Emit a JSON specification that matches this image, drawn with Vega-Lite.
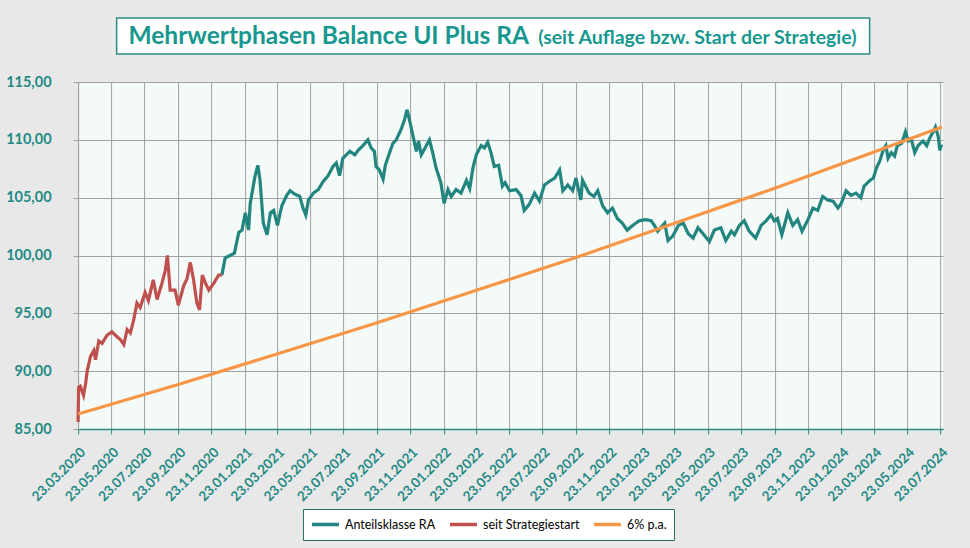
{
  "$schema": "https://vega.github.io/schema/vega-lite/v6.json",
  "background": "#e8e8e8",
  "padding": {"left": 5, "top": 17, "right": 20, "bottom": 9},
  "center": true,
  "spacing": 19,
  "config": {
    "locale": {"number": {"decimal": ",", "thousands": ".", "grouping": [3], "currency": ["", " €"]}},
    "font": "Lato, sans-serif"
  },
  "datasets": {
    "strat": [
      {"d": "2020-03-23", "v": 85.6}, {"d": "2020-03-24", "v": 88.6}, {"d": "2020-03-27", "v": 88.7},
      {"d": "2020-04-02", "v": 87.9}, {"d": "2020-04-06", "v": 89.0}, {"d": "2020-04-09", "v": 90.1},
      {"d": "2020-04-15", "v": 91.3}, {"d": "2020-04-21", "v": 91.8}, {"d": "2020-04-24", "v": 91.0},
      {"d": "2020-04-30", "v": 92.6}, {"d": "2020-05-06", "v": 92.4}, {"d": "2020-05-15", "v": 93.1},
      {"d": "2020-05-24", "v": 93.4}, {"d": "2020-06-02", "v": 93.0}, {"d": "2020-06-09", "v": 92.7},
      {"d": "2020-06-15", "v": 92.3}, {"d": "2020-06-21", "v": 93.6}, {"d": "2020-06-27", "v": 93.3},
      {"d": "2020-07-03", "v": 94.4}, {"d": "2020-07-09", "v": 95.9}, {"d": "2020-07-15", "v": 95.5},
      {"d": "2020-07-24", "v": 96.8}, {"d": "2020-07-30", "v": 96.1}, {"d": "2020-08-08", "v": 97.9},
      {"d": "2020-08-15", "v": 96.2}, {"d": "2020-08-24", "v": 97.6}, {"d": "2020-08-30", "v": 98.7},
      {"d": "2020-09-03", "v": 100.0}, {"d": "2020-09-08", "v": 97.0}, {"d": "2020-09-17", "v": 97.0},
      {"d": "2020-09-23", "v": 95.7}, {"d": "2020-10-03", "v": 97.4}, {"d": "2020-10-09", "v": 98.0},
      {"d": "2020-10-15", "v": 99.4}, {"d": "2020-10-21", "v": 97.9}, {"d": "2020-10-27", "v": 95.9},
      {"d": "2020-11-01", "v": 95.3}, {"d": "2020-11-06", "v": 98.3}, {"d": "2020-11-12", "v": 97.6},
      {"d": "2020-11-18", "v": 97.0}, {"d": "2020-11-27", "v": 97.6}, {"d": "2020-12-06", "v": 98.3},
      {"d": "2020-12-12", "v": 98.3}
    ],
    "ra": [
      {"d": "2020-12-12", "v": 98.3}, {"d": "2020-12-18", "v": 99.8}, {"d": "2020-12-27", "v": 100.0},
      {"d": "2021-01-04", "v": 100.2}, {"d": "2021-01-12", "v": 102.0}, {"d": "2021-01-18", "v": 102.2},
      {"d": "2021-01-24", "v": 103.7}, {"d": "2021-01-30", "v": 102.2}, {"d": "2021-02-02", "v": 104.5},
      {"d": "2021-02-11", "v": 106.9}, {"d": "2021-02-16", "v": 107.8}, {"d": "2021-02-20", "v": 106.5},
      {"d": "2021-02-26", "v": 102.8}, {"d": "2021-03-05", "v": 101.8}, {"d": "2021-03-11", "v": 103.7},
      {"d": "2021-03-17", "v": 103.9}, {"d": "2021-03-24", "v": 102.6}, {"d": "2021-04-01", "v": 104.3},
      {"d": "2021-04-10", "v": 105.2}, {"d": "2021-04-16", "v": 105.6}, {"d": "2021-04-25", "v": 105.3},
      {"d": "2021-05-04", "v": 105.1}, {"d": "2021-05-10", "v": 104.1}, {"d": "2021-05-15", "v": 103.5},
      {"d": "2021-05-20", "v": 104.8}, {"d": "2021-05-29", "v": 105.4}, {"d": "2021-06-07", "v": 105.7},
      {"d": "2021-06-16", "v": 106.4}, {"d": "2021-06-25", "v": 106.9}, {"d": "2021-07-04", "v": 107.7},
      {"d": "2021-07-10", "v": 108.0}, {"d": "2021-07-16", "v": 106.9}, {"d": "2021-07-22", "v": 108.4},
      {"d": "2021-08-04", "v": 109.0}, {"d": "2021-08-13", "v": 108.7}, {"d": "2021-08-19", "v": 109.1},
      {"d": "2021-08-28", "v": 109.5}, {"d": "2021-09-06", "v": 110.0}, {"d": "2021-09-12", "v": 109.3},
      {"d": "2021-09-18", "v": 109.0}, {"d": "2021-09-21", "v": 107.7}, {"d": "2021-09-27", "v": 107.4},
      {"d": "2021-10-04", "v": 106.6}, {"d": "2021-10-08", "v": 107.8}, {"d": "2021-10-16", "v": 108.9},
      {"d": "2021-10-22", "v": 109.7}, {"d": "2021-10-28", "v": 110.0}, {"d": "2021-11-06", "v": 110.9},
      {"d": "2021-11-12", "v": 111.7}, {"d": "2021-11-17", "v": 112.6}, {"d": "2021-11-22", "v": 111.6},
      {"d": "2021-11-28", "v": 110.3}, {"d": "2021-12-04", "v": 109.0}, {"d": "2021-12-08", "v": 109.9},
      {"d": "2021-12-13", "v": 108.7}, {"d": "2021-12-20", "v": 109.3}, {"d": "2021-12-28", "v": 110.0},
      {"d": "2022-01-03", "v": 108.9}, {"d": "2022-01-09", "v": 107.6}, {"d": "2022-01-18", "v": 106.3},
      {"d": "2022-01-24", "v": 104.5}, {"d": "2022-01-31", "v": 105.7}, {"d": "2022-02-06", "v": 105.1},
      {"d": "2022-02-15", "v": 105.7}, {"d": "2022-02-24", "v": 105.4}, {"d": "2022-03-06", "v": 106.5},
      {"d": "2022-03-12", "v": 105.8}, {"d": "2022-03-18", "v": 107.6}, {"d": "2022-03-24", "v": 108.7},
      {"d": "2022-04-02", "v": 109.5}, {"d": "2022-04-08", "v": 109.3}, {"d": "2022-04-14", "v": 109.8},
      {"d": "2022-04-20", "v": 108.9}, {"d": "2022-04-26", "v": 107.7}, {"d": "2022-05-04", "v": 107.8},
      {"d": "2022-05-11", "v": 106.0}, {"d": "2022-05-16", "v": 106.3}, {"d": "2022-05-24", "v": 105.6},
      {"d": "2022-06-05", "v": 105.7}, {"d": "2022-06-14", "v": 105.2}, {"d": "2022-06-20", "v": 103.9},
      {"d": "2022-06-29", "v": 104.4}, {"d": "2022-07-09", "v": 105.4}, {"d": "2022-07-18", "v": 104.7},
      {"d": "2022-07-27", "v": 106.1}, {"d": "2022-08-05", "v": 106.4}, {"d": "2022-08-15", "v": 106.7},
      {"d": "2022-08-24", "v": 107.4}, {"d": "2022-08-30", "v": 105.6}, {"d": "2022-09-08", "v": 106.1},
      {"d": "2022-09-17", "v": 105.6}, {"d": "2022-09-23", "v": 106.7}, {"d": "2022-10-02", "v": 104.8},
      {"d": "2022-10-05", "v": 106.5}, {"d": "2022-10-17", "v": 105.4}, {"d": "2022-10-26", "v": 105.1},
      {"d": "2022-11-02", "v": 105.6}, {"d": "2022-11-11", "v": 104.3}, {"d": "2022-11-20", "v": 103.7},
      {"d": "2022-11-29", "v": 104.1}, {"d": "2022-12-08", "v": 103.2}, {"d": "2022-12-17", "v": 102.8},
      {"d": "2022-12-26", "v": 102.2}, {"d": "2023-01-05", "v": 102.6}, {"d": "2023-01-17", "v": 103.0},
      {"d": "2023-01-29", "v": 103.1}, {"d": "2023-02-08", "v": 103.0}, {"d": "2023-02-14", "v": 102.6},
      {"d": "2023-02-20", "v": 102.1}, {"d": "2023-03-05", "v": 102.8}, {"d": "2023-03-11", "v": 101.3},
      {"d": "2023-03-20", "v": 101.7}, {"d": "2023-03-30", "v": 102.6}, {"d": "2023-04-08", "v": 102.8},
      {"d": "2023-04-17", "v": 101.9}, {"d": "2023-04-26", "v": 101.5}, {"d": "2023-05-05", "v": 102.4},
      {"d": "2023-05-14", "v": 101.9}, {"d": "2023-05-26", "v": 101.2}, {"d": "2023-06-04", "v": 102.2},
      {"d": "2023-06-16", "v": 102.4}, {"d": "2023-06-25", "v": 101.3}, {"d": "2023-07-05", "v": 102.1},
      {"d": "2023-07-11", "v": 101.8}, {"d": "2023-07-20", "v": 102.6}, {"d": "2023-07-29", "v": 103.0},
      {"d": "2023-08-07", "v": 102.1}, {"d": "2023-08-19", "v": 101.5}, {"d": "2023-08-29", "v": 102.6},
      {"d": "2023-09-07", "v": 103.0}, {"d": "2023-09-16", "v": 103.5}, {"d": "2023-09-22", "v": 103.0},
      {"d": "2023-09-28", "v": 103.2}, {"d": "2023-10-06", "v": 101.8}, {"d": "2023-10-14", "v": 103.2},
      {"d": "2023-10-17", "v": 103.7}, {"d": "2023-10-26", "v": 102.6}, {"d": "2023-11-04", "v": 103.1},
      {"d": "2023-11-12", "v": 102.1}, {"d": "2023-11-23", "v": 103.1}, {"d": "2023-12-02", "v": 104.1},
      {"d": "2023-12-11", "v": 103.9}, {"d": "2023-12-20", "v": 105.1}, {"d": "2023-12-29", "v": 104.8},
      {"d": "2024-01-08", "v": 104.7}, {"d": "2024-01-17", "v": 104.1}, {"d": "2024-01-23", "v": 104.5},
      {"d": "2024-02-01", "v": 105.6}, {"d": "2024-02-10", "v": 105.2}, {"d": "2024-02-19", "v": 105.4},
      {"d": "2024-02-28", "v": 105.0}, {"d": "2024-03-05", "v": 106.0}, {"d": "2024-03-16", "v": 106.5},
      {"d": "2024-03-22", "v": 106.7}, {"d": "2024-03-28", "v": 107.6}, {"d": "2024-04-03", "v": 108.2},
      {"d": "2024-04-09", "v": 109.1}, {"d": "2024-04-14", "v": 109.5}, {"d": "2024-04-18", "v": 108.4},
      {"d": "2024-04-24", "v": 108.9}, {"d": "2024-04-30", "v": 108.6}, {"d": "2024-05-05", "v": 109.5},
      {"d": "2024-05-13", "v": 109.7}, {"d": "2024-05-20", "v": 110.7}, {"d": "2024-05-25", "v": 109.9},
      {"d": "2024-05-31", "v": 110.0}, {"d": "2024-06-06", "v": 108.9}, {"d": "2024-06-12", "v": 109.5},
      {"d": "2024-06-21", "v": 109.9}, {"d": "2024-06-28", "v": 109.5}, {"d": "2024-07-04", "v": 110.2},
      {"d": "2024-07-10", "v": 110.7}, {"d": "2024-07-14", "v": 111.1}, {"d": "2024-07-19", "v": 110.3},
      {"d": "2024-07-22", "v": 109.1}, {"d": "2024-07-25", "v": 109.6}
    ],
    "pa": [
      {"d": "2020-03-23", "v": 86.3}, {"d": "2020-09-23", "v": 88.85}, {"d": "2021-03-23", "v": 91.48},
      {"d": "2021-09-23", "v": 94.18}, {"d": "2022-03-23", "v": 96.97}, {"d": "2022-09-23", "v": 99.83},
      {"d": "2023-03-23", "v": 102.78}, {"d": "2023-09-23", "v": 105.82}, {"d": "2024-03-23", "v": 108.95},
      {"d": "2024-07-26", "v": 111.1}
    ]
  },
  "vconcat": [
    {
      "width": 753,
      "height": 36,
      "title": {"text": " ", "orient": "right", "offset": 30, "fontSize": 11},
      "view": {"fill": "white", "stroke": "#2b8c86", "strokeWidth": 1.5},
      "data": {"values": [{"t1": "Mehrwertphasen Balance UI Plus RA", "t2": "(seit Auflage bzw. Start der Strategie)"}]},
      "layer": [
        {
          "mark": {"type": "text", "align": "right", "baseline": "middle", "dx": 36, "dy": 1, "fontSize": 24.5, "fontWeight": "bold", "color": "#16978f"},
          "encoding": {"text": {"field": "t1"}}
        },
        {
          "mark": {"type": "text", "align": "left", "baseline": "middle", "dx": 45, "dy": 2, "fontSize": 19.5, "fontWeight": "bold", "color": "#16978f"},
          "encoding": {"text": {"field": "t2"}}
        }
      ]
    },
    {
      "width": 865,
      "height": 347,
      "view": {"fill": "#f3faf8", "stroke": null},
      "encoding": {
        "x": {
          "field": "d", "type": "temporal",
          "scale": {"type": "utc", "domain": [{"year": 2020, "month": 3, "date": 23, "utc": true}, {"year": 2024, "month": 7, "date": 28, "utc": true}]},
          "axis": {
            "title": null, "format": "%d.%m.%Y", "labelAngle": -45, "labelFontSize": 13.5, "labelFontWeight": "bold",
            "labelColor": "#1f8a84", "labelPadding": 11, "tickColor": "#2b8c86", "tickSize": 5, "domainColor": "#2b8c86",
            "domainWidth": 1.5, "gridColor": "#a0a0a0", "grid": true, "labelOverlap": false, "labelFlush": false,
            "values": [
              {"year": 2020, "month": 3, "date": 23, "utc": true}, {"year": 2020, "month": 5, "date": 23, "utc": true},
              {"year": 2020, "month": 7, "date": 23, "utc": true}, {"year": 2020, "month": 9, "date": 23, "utc": true},
              {"year": 2020, "month": 11, "date": 23, "utc": true}, {"year": 2021, "month": 1, "date": 23, "utc": true},
              {"year": 2021, "month": 3, "date": 23, "utc": true}, {"year": 2021, "month": 5, "date": 23, "utc": true},
              {"year": 2021, "month": 7, "date": 23, "utc": true}, {"year": 2021, "month": 9, "date": 23, "utc": true},
              {"year": 2021, "month": 11, "date": 23, "utc": true}, {"year": 2022, "month": 1, "date": 23, "utc": true},
              {"year": 2022, "month": 3, "date": 23, "utc": true}, {"year": 2022, "month": 5, "date": 23, "utc": true},
              {"year": 2022, "month": 7, "date": 23, "utc": true}, {"year": 2022, "month": 9, "date": 23, "utc": true},
              {"year": 2022, "month": 11, "date": 23, "utc": true}, {"year": 2023, "month": 1, "date": 23, "utc": true},
              {"year": 2023, "month": 3, "date": 23, "utc": true}, {"year": 2023, "month": 5, "date": 23, "utc": true},
              {"year": 2023, "month": 7, "date": 23, "utc": true}, {"year": 2023, "month": 9, "date": 23, "utc": true},
              {"year": 2023, "month": 11, "date": 23, "utc": true}, {"year": 2024, "month": 1, "date": 23, "utc": true},
              {"year": 2024, "month": 3, "date": 23, "utc": true}, {"year": 2024, "month": 5, "date": 23, "utc": true},
              {"year": 2024, "month": 7, "date": 23, "utc": true}
            ]
          }
        },
        "y": {
          "field": "v", "type": "quantitative",
          "scale": {"domain": [85, 115], "nice": false, "zero": false},
          "axis": {
            "title": null, "values": [85, 90, 95, 100, 105, 110, 115], "format": ".2f", "labelFontSize": 14.5,
            "labelFontWeight": "bold", "labelColor": "#1f8a84", "labelPadding": 22, "tickColor": "#a0a0a0",
            "tickSize": 5, "domainColor": "#a0a0a0", "gridColor": "#a0a0a0"
          }
        },
        "color": {
          "scale": {"domain": ["Anteilsklasse RA", "seit Strategiestart", "6% p.a."], "range": ["#23857f", "#c0504d", "#f79646"]},
          "legend": {
            "orient": "none", "legendX": 225, "legendY": 491, "direction": "horizontal", "title": null,
            "strokeColor": "#2b6e6a", "fillColor": "white", "padding": 7, "symbolType": "stroke",
            "symbolStrokeWidth": 3.5, "symbolSize": 729, "labelFontSize": 12.5, "labelColor": "black",
            "labelOffset": 4, "columnPadding": 12, "clipHeight": 17
          }
        }
      },
      "layer": [
        {"data": {"name": "ra"}, "mark": {"type": "line", "strokeWidth": 3.2}, "encoding": {"color": {"datum": "Anteilsklasse RA"}}},
        {"data": {"name": "strat"}, "mark": {"type": "line", "strokeWidth": 3.2}, "encoding": {"color": {"datum": "seit Strategiestart"}}},
        {"data": {"name": "pa"}, "mark": {"type": "line", "strokeWidth": 3.2}, "encoding": {"color": {"datum": "6% p.a."}}}
      ]
    }
  ]
}
